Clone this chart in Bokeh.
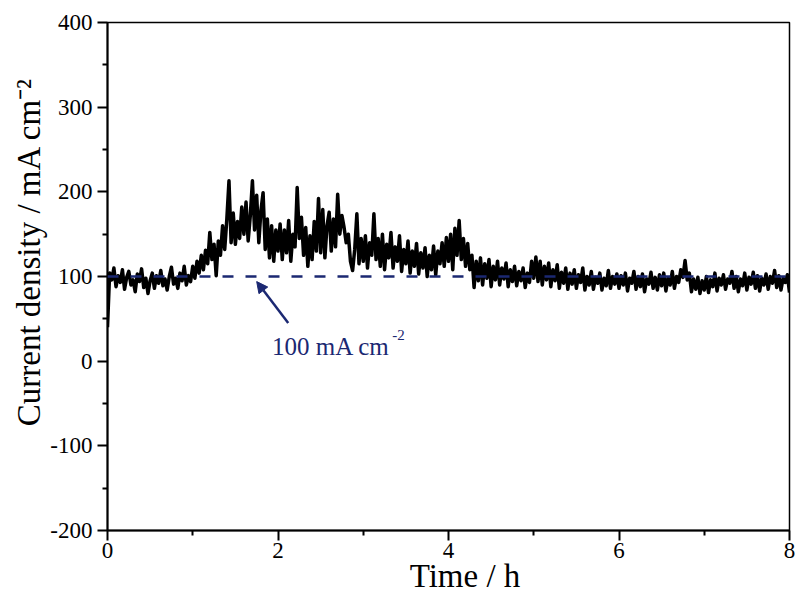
from bokeh.plotting import figure
from bokeh.models import Range1d, FixedTicker, Arrow, NormalHead, Label, Span
from bokeh.embed import file_html
from bokeh.resources import INLINE

# Current density (mA cm^-2), sampled every 0.025 h, read hour by hour
hour0 = [40, 104, 96, 110, 88, 101, 93, 108, 85, 99, 106, 90, 96, 82, 103, 94, 109, 87, 98, 80,
         95, 104, 86, 101, 92, 107, 89, 97, 84, 100, 111, 91, 98, 86, 104, 95, 112, 90, 101, 94]
hour1 = [112, 98, 118, 104, 125, 108, 131, 115, 152, 120, 138, 101, 142, 125, 160, 132, 168, 213, 140, 175,
         138, 165, 145, 182, 150, 188, 142, 172, 213, 155, 196, 140, 178, 199, 132, 168, 122, 160, 118, 155]
hour2 = [130, 162, 120, 155, 128, 166, 118, 150, 135, 205, 145, 170, 125, 158, 112, 148, 120, 165, 130, 192,
         128, 179, 122, 160, 176, 130, 168, 135, 197, 150, 172, 158, 140, 150, 118, 107, 132, 174, 115, 145]
hour3 = [118, 148, 110, 140, 125, 174, 120, 145, 112, 150, 108, 138, 122, 152, 110, 135, 118, 148, 106, 132,
         115, 142, 104, 130, 112, 139, 103, 128, 110, 134, 100, 125, 108, 136, 102, 130, 115, 140, 112, 146]
hour4 = [118, 150, 108, 157, 125, 166, 120, 145, 112, 139, 108, 125, 87, 118, 95, 122, 90, 115, 98, 120,
         88, 112, 96, 118, 90, 110, 97, 116, 88, 108, 94, 112, 89, 106, 95, 110, 87, 104, 93, 118]
hour5 = [98, 123, 94, 118, 90, 112, 96, 116, 88, 108, 95, 114, 86, 105, 92, 110, 85, 104, 91, 108,
         86, 102, 93, 110, 84, 100, 90, 106, 85, 99, 92, 104, 84, 98, 89, 107, 86, 100, 91, 103]
hour6 = [86, 101, 90, 104, 83, 98, 92, 106, 85, 100, 88, 103, 82, 97, 91, 105, 86, 99, 84, 102,
         89, 104, 83, 98, 90, 106, 86, 100, 93, 108, 99, 119, 96, 104, 82, 97, 85, 99, 80, 95]
hour7 = [84, 100, 81, 96, 88, 104, 83, 98, 90, 102, 85, 97, 92, 106, 86, 100, 82, 97, 89, 104,
         84, 99, 91, 105, 86, 101, 83, 98, 90, 103, 85, 100, 92, 107, 87, 101, 84, 98, 93, 102, 81]

current = hour0 + hour1 + hour2 + hour3 + hour4 + hour5 + hour6 + hour7
time_step = 0.025
time_h = [round(i * time_step, 3) for i in range(len(current))]

target_current = 100
x_ticks = [0, 2, 4, 6, 8]
x_minor = [1, 3, 5, 7]
y_ticks = [-200, -100, 0, 100, 200, 300, 400]
y_minor = [-150, -50, 50, 150, 250, 350]
y_tick_text = {-200: "-200", -100: "-100"}

NBSP = "\u00a0"
x_title = NBSP * 4 + "Time / h"
y_title = NBSP * 6 + "Current density / mA cm\u207b\u00b2"
note_text = "100 mA cm"
note_sup = "-2"

FONT = "Liberation Serif"
NAVY = "#1b2872"

p = figure(width=795, height=596, output_backend="svg", toolbar_location=None,
           x_range=Range1d(0, 8), y_range=Range1d(-200, 400),
           min_border_left=107, min_border_right=6, min_border_top=22, min_border_bottom=66)
p.background_fill_color = "white"
p.border_fill_color = "white"
p.outline_line_color = "black"
p.outline_line_width = 1.5
p.xgrid.grid_line_color = None
p.ygrid.grid_line_color = None

p.line(time_h, current, line_color="black", line_width=3.5, line_join="round")

p.add_layout(Span(location=target_current, dimension="width", line_color=NAVY,
                  line_width=2.5, line_dash="11 12"))

p.add_layout(Arrow(end=NormalHead(size=11, fill_color=NAVY, line_color=NAVY),
                   x_start=2.12, y_start=45, x_end=1.75, y_end=94,
                   line_color=NAVY, line_width=2.5))
p.add_layout(Label(x=1.93, y=17, text=note_text, text_font=FONT, text_font_size="25px",
                   text_color=NAVY, text_baseline="alphabetic"))
p.add_layout(Label(x=3.34, y=31, text=note_sup, text_font=FONT, text_font_size="15px",
                   text_color=NAVY, text_baseline="alphabetic"))

for ax in (p.xaxis, p.yaxis):
    ax.axis_line_width = 2
    ax.axis_line_color = "black"
    ax.major_tick_line_width = 2
    ax.minor_tick_line_width = 2
    ax.major_tick_in = 0
    ax.major_tick_out = 10
    ax.minor_tick_in = 0
    ax.minor_tick_out = 5
    ax.major_label_text_font = FONT
    ax.major_label_text_font_size = "23px"
    ax.major_label_text_color = "black"
    ax.axis_label_text_font = FONT
    ax.axis_label_text_font_size = "33px"
    ax.axis_label_text_font_style = "normal"
    ax.axis_label_text_color = "black"

p.xaxis.ticker = FixedTicker(ticks=x_ticks, minor_ticks=x_minor)
p.yaxis.ticker = FixedTicker(ticks=y_ticks, minor_ticks=y_minor)
p.yaxis.major_label_overrides = y_tick_text
p.xaxis.axis_label = x_title
p.yaxis.axis_label = y_title
p.xaxis.major_label_standoff = 2
p.xaxis.axis_label_standoff = -3
p.yaxis.major_label_standoff = 5
p.yaxis.axis_label_standoff = 0

open("out.html", "w").write(file_html(p, INLINE))
